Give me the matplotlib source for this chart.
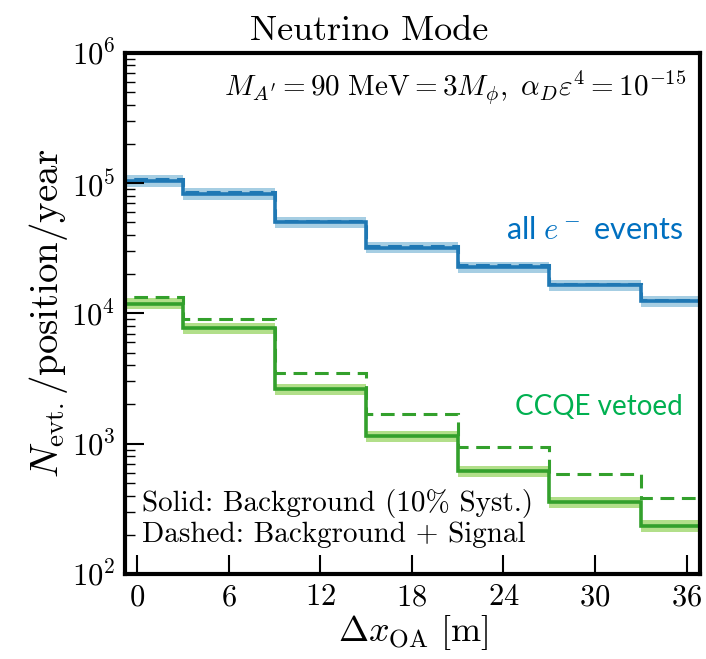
import numpy as np
import matplotlib
matplotlib.use('Agg')
from matplotlib import pyplot

pyplot.rcParams['font.family'] = 'cmr10'
pyplot.rcParams['mathtext.fontset'] = 'cm'
pyplot.rcParams['axes.formatter.use_mathtext'] = True

# Bin edges (bins centred on the off-axis positions)
edges = [-3, 3, 9, 15, 21, 27, 33, 39]

# All e- events
all_bkg = [1.04e5, 8.3e4, 5.0e4, 3.2e4, 2.27e4, 1.64e4, 1.24e4]
all_sig = [1.07e5, 8.5e4, 5.15e4, 3.3e4, 2.33e4, 1.68e4, 1.27e4]

# CCQE vetoed
veto_bkg = [1.19e4, 7.7e3, 2.63e3, 1.14e3, 612, 354, 234]
veto_sig = [1.34e4, 9.0e3, 3.5e3, 1.69e3, 937, 585, 382]

syst = 0.10

# Paired colours
blue_d, blue_l = '#1f78b4', '#a6cee3'
green_d, green_l = '#33a02c', '#b2df8a'

f1 = pyplot.figure(figsize=(7.06, 6.59), dpi=100)
ax0 = f1.add_axes([0.177, 0.129, 0.815, 0.791])

for bkg, sig, cd, cl in [(all_bkg, all_sig, blue_d, blue_l),
                         (veto_bkg, veto_sig, green_d, green_l)]:
    bkg = np.array(bkg)
    ax0.stairs(bkg * (1 + syst), edges, baseline=bkg * (1 - syst), fill=True,
               color=cl, lw=0)
    ax0.stairs(bkg, edges, baseline=None, color=cd, lw=2.6)
    ax0.stairs(sig, edges, baseline=None, color=cd, lw=2.2, ls=(0, (4.5, 2.5)))

# Tidy up the plot ranges, and label
ax0.set_yscale('log')
ax0.set_ylim([1e2, 1e6])
ax0.set_xlim([-0.8, 36.9])
ax0.set_xticks(range(0, 37, 6))
ax0.tick_params(which='both', direction='in', labelsize=22, top=False, right=False)
ax0.tick_params(which='major', length=14, width=1.5, pad=7)
ax0.tick_params(which='minor', length=7, width=1.0)
for s in ax0.spines.values():
    s.set_linewidth(3)

f1.text(0.523, 0.952, 'Neutrino Mode', ha='center', va='center', fontsize=26)
ax0.set_xlabel(r'$\Delta x_{\rm OA}\ [{\rm m}]$', fontsize=26, labelpad=1)
ax0.set_ylabel(r'$N_{\rm evt.}/{\rm position}/{\rm year}$', fontsize=28, labelpad=1)

ax0.text(0.975, 0.97,
         r"$M_{A'} = 90\ {\rm MeV} = 3M_{\phi},\ \alpha_D\varepsilon^4 = 10^{-15}$",
         transform=ax0.transAxes, ha='right', va='top', fontsize=21)
ax0.text(0.03, 0.135, 'Solid: Background (10% Syst.)',
         transform=ax0.transAxes, ha='left', va='center', fontsize=21)
ax0.text(0.03, 0.075, 'Dashed: Background + Signal',
         transform=ax0.transAxes, ha='left', va='center', fontsize=21)

ax0.text(0.97, 0.66, r'all $e^-$ events', transform=ax0.transAxes,
         ha='right', va='center', fontsize=22, color='#0070c0', family='Lato')
ax0.text(0.97, 0.32, 'CCQE vetoed', transform=ax0.transAxes,
         ha='right', va='center', fontsize=20, color='#00b050', family='Lato')

pyplot.savefig('out.png', dpi=100)
